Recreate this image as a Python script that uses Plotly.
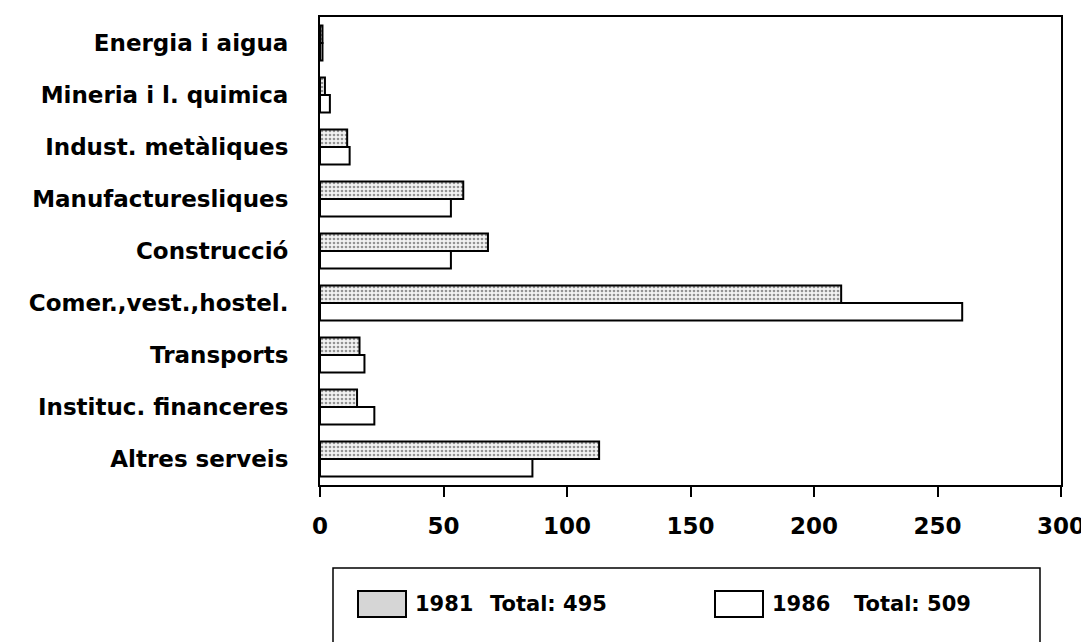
import plotly.graph_objects as go

categories = ["Energia i aigua", "Mineria i l. quimica", "Indust. metàliques",
              "Manufacturesliques", "Construcció", "Comer.,vest.,hostel.",
              "Transports", "Instituc. financeres", "Altres serveis"]
values_1981 = [1, 2, 11, 58, 68, 211, 16, 15, 113]
values_1986 = [1, 4, 12, 53, 53, 260, 18, 22, 86]
series_names = ["1981", "1986"]
totals = [495, 509]
x_ticks = [0, 50, 100, 150, 200, 250, 300]

W, H = 1089, 642
OFFX, OFFY = 8, 7          # page offset of the plot div
ML, MR, MT, MB = 312, 36, 9, 165
PW, PH = W - ML - MR, H - MT - MB

def px(x):
    return (x - OFFX - ML) / PW

def py(y):
    return (H - MB - (y - OFFY)) / PH

FONT = "DejaVu Sans"

fig = go.Figure()
fig.add_trace(go.Bar(
    y=categories, x=values_1981, orientation="h", name=series_names[0],
    marker=dict(color="white",
                pattern=dict(shape=".", fgcolor="#333333", bgcolor="#f2f2f2",
                             size=4, solidity=0.35),
                line=dict(color="black", width=2)),
))
fig.add_trace(go.Bar(
    y=categories, x=values_1986, orientation="h", name=series_names[1],
    marker=dict(color="white", line=dict(color="black", width=2)),
))

fig.update_layout(
    width=W, height=H,
    margin=dict(l=ML, r=MR, t=MT, b=MB, autoexpand=False),
    paper_bgcolor="white", plot_bgcolor="white",
    barmode="group", bargap=0.33, bargroupgap=0,
    showlegend=False,
    font=dict(family=FONT, color="black"),
)
fig.update_xaxes(
    range=[0, 300], tickvals=x_ticks, ticks="outside", ticklen=10,
    tickwidth=1.5, tickcolor="black", showgrid=False, zeroline=False,
    showline=True, linecolor="black", linewidth=2, mirror=True,
    tickfont=dict(family=FONT, size=23, weight="bold", color="black"),
    ticklabelstandoff=9, automargin=False,
)
fig.update_yaxes(
    autorange="reversed", showgrid=False, zeroline=False, ticks="",
    showline=True, linecolor="black", linewidth=2, mirror=True,
    tickfont=dict(family=FONT, size=23, weight="bold", color="black"),
    ticklabelstandoff=25, automargin=False,
)

# legend box drawn below the chart
fig.add_shape(type="rect", xref="paper", yref="paper",
              x0=px(333), x1=px(1040), y0=py(567), y1=py(720),
              line=dict(color="black", width=1.5), fillcolor="rgba(0,0,0,0)")
fig.add_shape(type="rect", xref="paper", yref="paper",
              x0=px(358), x1=px(406), y0=py(590), y1=py(616),
              line=dict(color="black", width=2), fillcolor="#d6d6d6")
fig.add_shape(type="rect", xref="paper", yref="paper",
              x0=px(715), x1=px(763), y0=py(590), y1=py(616),
              line=dict(color="black", width=2), fillcolor="white")

legend_font = dict(family=FONT, size=21, weight="bold", color="black")
for xpos, txt in [(413, series_names[0]), (488, f"Total: {totals[0]}"),
                  (770, series_names[1]), (852, f"Total: {totals[1]}")]:
    fig.add_annotation(x=px(xpos), y=py(603), xref="paper", yref="paper",
                       text=txt, showarrow=False, xanchor="left",
                       yanchor="middle", font=legend_font)

fig.write_html("out.html")
